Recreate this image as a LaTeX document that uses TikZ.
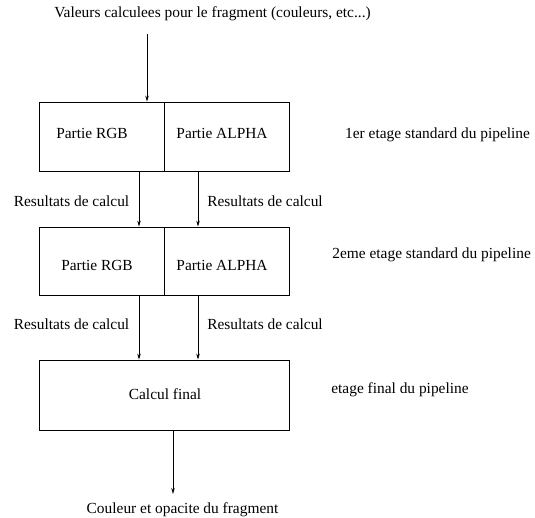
\documentclass[tikz,border=0pt]{standalone}
\usepackage{fontspec}
\setmainfont{Liberation Serif}
\usetikzlibrary{arrows.meta}
\begin{document}
\begin{tikzpicture}[x=1pt,y=-1pt,
  every node/.style={font=\fontsize{15.4}{18}\selectfont},
  lbl/.style={inner sep=0pt, anchor=center},
  half/.style={draw, line width=0.8pt, minimum width=125pt, minimum height=69pt, inner sep=0pt},
  full/.style={draw, line width=0.8pt, minimum width=250pt, minimum height=70pt, inner sep=0pt},
  arr/.style={line width=0.8pt, -{Stealth[length=6pt,width=3.5pt]}}]
\useasboundingbox (0,0) rectangle (535,518);
% text
\node[lbl] (top) at (212.5,13.5) {Valeurs calculees pour le fragment (couleurs, etc...)};
\coordinate (in) at (147,34);
% box 1
\node[half] (b1l) at (101.5,136.5) {};
\node[half] (b1r) at (226.5,136.5) {};
\node[lbl] (t1l) at (92,133) {Partie RGB};
\node[lbl] (t1r) at (222,133) {Partie ALPHA};
\node[lbl, anchor=west] (s1) at (345,135) {1er etage standard du pipeline};
% box 2
\node[half, minimum height=68pt] (b2l) at (101.5,261) {};
\node[half, minimum height=68pt] (b2r) at (226.5,261) {};
\node[lbl] (t2l) at (97,265) {Partie RGB};
\node[lbl] (t2r) at (222,265) {Partie ALPHA};
\node[lbl, anchor=east] (s2) at (531,255) {2eme etage standard du pipeline};
% box 3
\node[full] (b3) at (164,395) {};
\node[lbl] (t3) at (165,394) {Calcul final};
\node[lbl] (s3) at (400,390) {etage final du pipeline};
% labels between
\node[lbl] (r1l) at (71.5,201) {Resultats de calcul};
\node[lbl] (r1r) at (265,201) {Resultats de calcul};
\node[lbl] (r2l) at (71.5,324) {Resultats de calcul};
\node[lbl] (r2r) at (265,324) {Resultats de calcul};
% output
\node[lbl] (out) at (182.5,510) {Couleur et opacite du fragment};
\coordinate (outc) at (173,494);
% arrows
\draw[arr] (in) -- (in |- b1l.north);
\draw[arr] ([xshift=37.5pt]b1l.south) -- ([xshift=37.5pt]b2l.north);
\draw[arr] ([xshift=-28.5pt]b1r.south) -- ([xshift=-28.5pt]b2r.north);
\draw[arr] ([xshift=37.5pt]b2l.south) -- ([xshift=37.5pt]b2l.south |- b3.north);
\draw[arr] ([xshift=-28.5pt]b2r.south) -- ([xshift=-28.5pt]b2r.south |- b3.north);
\draw[arr] (b3.south -| outc) -- (outc);
\end{tikzpicture}
\end{document}
